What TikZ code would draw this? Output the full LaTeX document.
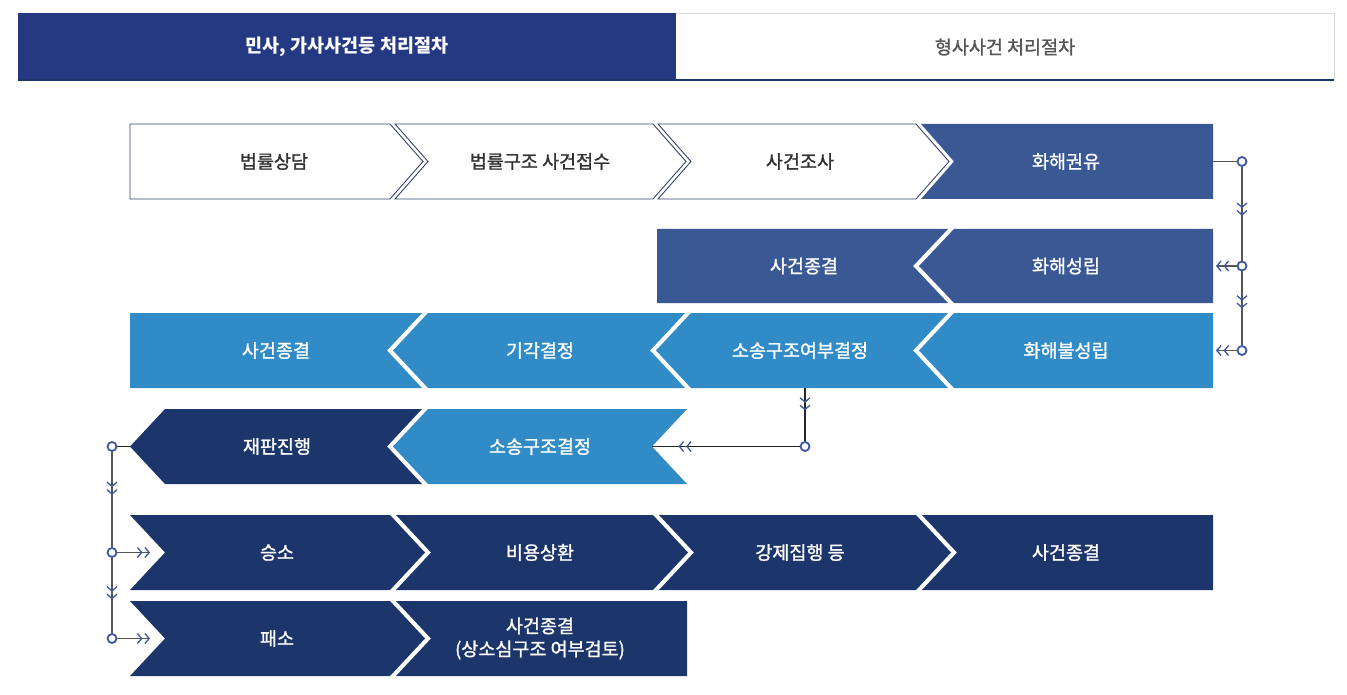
\documentclass[tikz,border=0pt]{standalone}
\usepackage{fontspec}
\setmainfont{Noto Sans CJK KR}
\newfontfamily\medfont[FakeBold=1.3]{Noto Sans CJK KR}
\usetikzlibrary{arrows.meta,decorations.markings}

\definecolor{tabnavy}{RGB}{37,57,131}
\definecolor{midblue}{RGB}{57,88,148}
\definecolor{skyblue}{RGB}{49,139,199}
\definecolor{deepnavy}{RGB}{28,54,107}
\definecolor{frameline}{RGB}{55,68,115}
\definecolor{dotblue}{RGB}{60,86,165}
\definecolor{linkgray}{RGB}{85,85,85}
\definecolor{tabgray}{RGB}{217,217,217}
\definecolor{tabtext}{RGB}{85,85,85}

\begin{document}
\begin{tikzpicture}[x=1pt, y=-1pt, line join=miter,
  lbl/.style={text=white, font=\medfont\fontsize{18.5}{23}\selectfont, align=center},
  dot/.style={circle, draw=dotblue, fill=white, line width=1.8pt, inner sep=0pt, minimum size=9pt},
  link/.style={draw=linkgray, line width=1.2pt},
  dchev/.tip={Straight Barb[length=4.2pt, width=10pt, line width=1.3pt, color=dotblue, sep=1.8pt] Straight Barb[length=4.2pt, width=10pt, line width=1.3pt, color=dotblue]},
  vv/.style={postaction={decorate, decoration={markings, mark=at position #1 with {\arrow{dchev}}}}}]
  \useasboundingbox (0,0) rectangle (1347,695);

  % 1. 탭
  \fill[tabnavy] (18,13) rectangle (676,80);
  \draw[tabgray] (676,13.5) -- (1334,13.5) -- (1334,80);
  \draw[deepnavy, line width=2pt] (18,80.5) -- (1334,80.5);
  \node[text=white, font=\fontsize{18.5}{20}\selectfont\bfseries] (civil) at (347,47) {민사, 가사사건등 처리절차};
  \node[text=tabtext, font=\medfont\fontsize{18.5}{20}\selectfont] (criminal) at (1005,47) {형사사건 처리절차};

  % 2. 첫째 줄 (상담 -> 권유)
  \filldraw[fill=white, draw=frameline, line width=0.9pt] (130,124) -- (390,124) -- (423,161.5) -- (390,199) -- (130,199) -- cycle;
  \filldraw[fill=white, draw=frameline, line width=0.9pt] (395,124) -- (653,124) -- (686,161.5) -- (653,199) -- (395,199) -- (428,161.5) -- cycle;
  \filldraw[fill=white, draw=frameline, line width=0.9pt] (658,124) -- (916,124) -- (949,161.5) -- (916,199) -- (658,199) -- (691,161.5) -- cycle;
  \fill[midblue] (921,124) -- (1213,124) -- (1213,199) -- (921,199) -- (954,161.5) -- cycle;
  \node[lbl, text=black!80] (sangdam) at (274,161.5) {법률상담};
  \node[lbl, text=black!80] (jeopsu) at (540,161.5) {법률구조 사건접수};
  \node[lbl, text=black!80] (josa) at (800,161.5) {사건조사};
  \node[lbl] (gwonyu) at (1066,161.5) {화해권유};

  % 3. 둘째 줄 (화해성립)
  \fill[midblue] (657,229) -- (948,229) -- (913,266) -- (948,303) -- (657,303) -- cycle;
  \fill[midblue] (954,229) -- (1213,229) -- (1213,303) -- (954,303) -- (919,266) -- cycle;
  \node[lbl] (jonggyeolA) at (804,266) {사건종결};
  \node[lbl] (seongrip) at (1066,266) {화해성립};

  % 4. 셋째 줄 (화해불성립)
  \fill[skyblue] (130,313) -- (422,313) -- (387,350.5) -- (422,388) -- (130,388) -- cycle;
  \fill[skyblue] (428,313) -- (685,313) -- (650,350.5) -- (685,388) -- (428,388) -- (393,350.5) -- cycle;
  \fill[skyblue] (691,313) -- (948,313) -- (913,350.5) -- (948,388) -- (691,388) -- (656,350.5) -- cycle;
  \fill[skyblue] (954,313) -- (1213,313) -- (1213,388) -- (954,388) -- (919,350.5) -- cycle;
  \node[lbl] (jonggyeolB) at (276,350.5) {사건종결};
  \node[lbl] (gigak) at (540,350.5) {기각결정};
  \node[lbl] (yeobu) at (800,350.5) {소송구조여부결정};
  \node[lbl] (bulseongrip) at (1066,350.5) {화해불성립};

  % 5. 넷째 줄 (구조결정 -> 재판)
  \fill[deepnavy] (165,409) -- (422,409) -- (387,446.5) -- (422,484) -- (165,484) -- (130,446.5) -- cycle;
  \fill[skyblue] (428,409) -- (687,409) -- (652,446.5) -- (687,484) -- (428,484) -- (393,446.5) -- cycle;
  \node[lbl] (jaepan) at (277,446.5) {재판진행};
  \node[lbl] (gyeoljeong) at (540,446.5) {소송구조결정};

  % 6. 다섯째, 여섯째 줄 (승소 / 패소)
  \fill[deepnavy] (130,515) -- (390,515) -- (425,552.5) -- (390,590) -- (130,590) -- (165,552.5) -- cycle;
  \fill[deepnavy] (396,515) -- (653,515) -- (688,552.5) -- (653,590) -- (396,590) -- (431,552.5) -- cycle;
  \fill[deepnavy] (659,515) -- (916,515) -- (951,552.5) -- (916,590) -- (659,590) -- (694,552.5) -- cycle;
  \fill[deepnavy] (922,515) -- (1213,515) -- (1213,590) -- (922,590) -- (957,552.5) -- cycle;
  \node[lbl] (seungso) at (277,552.5) {승소};
  \node[lbl] (biyong) at (540,552.5) {비용상환};
  \node[lbl] (gangje) at (800,552.5) {강제집행 등};
  \node[lbl] (jonggyeolC) at (1066,552.5) {사건종결};

  \fill[deepnavy] (130,601) -- (390,601) -- (425,638.5) -- (390,676) -- (130,676) -- (165,638.5) -- cycle;
  \fill[deepnavy] (396,601) -- (687,601) -- (687,676) -- (396,676) -- (431,638.5) -- cycle;
  \node[lbl] (paeso) at (277,638.5) {패소};
  \node[lbl] (jonggyeolD) at (540,638.5) {사건종결\\(상소심구조 여부검토)};

  % 7. 연결선
  \coordinate (gwonyu-e) at (1213,161.5);
  \coordinate (seongrip-e) at (1216,266);
  \coordinate (bulseongrip-e) at (1216,350.5);
  \coordinate (yeobu-s) at (805,388);
  \coordinate (gyeoljeong-e) at (652,446.5);
  \coordinate (jaepan-w) at (130,446.5);
  \coordinate (seungso-w) at (150,552.5);
  \coordinate (paeso-w) at (150,638.5);

  \node[dot] (r1) at (1242,161.5) {};
  \node[dot] (r2) at (1242,266) {};
  \node[dot] (r3) at (1242,350.5) {};
  \node[dot] (m1) at (805,446.5) {};
  \node[dot] (l1) at (112,446.5) {};
  \node[dot] (l2) at (112,552.5) {};
  \node[dot] (l3) at (112,638.5) {};

  \draw[link] (gwonyu-e) -- (r1);
  \draw[link, vv=0.52] (r1) -- (r2);
  \draw[link, vv=0.5] (r2) -- (r3);
  \draw[link, -dchev] (r2) -- (seongrip-e);
  \draw[link, -dchev] (r3) -- (bulseongrip-e);

  \draw[link, draw=black!85, vv=0.42] (yeobu-s) -- (m1);
  \draw[link, draw=black!85, vv=0.82] (m1) -- (gyeoljeong-e);

  \draw[link, draw=black!85] (jaepan-w) -- (l1);
  \draw[link, vv=0.45] (l1) -- (l2);
  \draw[link, vv=0.55] (l2) -- (l3);
  \draw[link, -dchev] (l2) -- (seungso-w);
  \draw[link, -dchev] (l3) -- (paeso-w);
\end{tikzpicture}
\end{document}
